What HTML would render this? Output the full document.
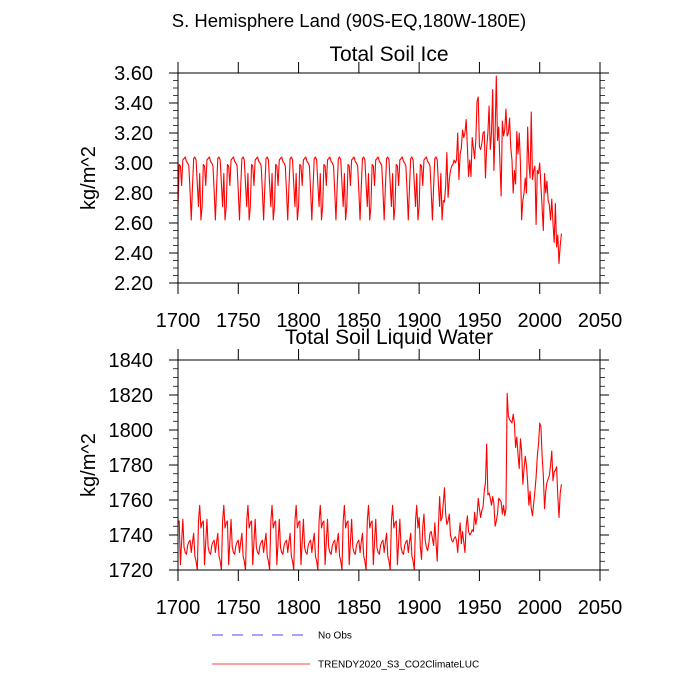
<!DOCTYPE html>
<html><head><meta charset="utf-8"><style>
html,body{margin:0;padding:0;background:#fff;}
svg{display:block;font-family:"Liberation Sans",Arial,sans-serif;}
</style></head><body>
<svg id="chart" width="700" height="700" viewBox="0 0 700 700" xmlns="http://www.w3.org/2000/svg">
<rect x="0" y="0" width="700" height="700" fill="#fff"/>
<text x="349" y="27" font-size="18.5" text-anchor="middle">S. Hemisphere Land (90S-EQ,180W-180E)</text>
<text x="389" y="61" font-size="21" text-anchor="middle">Total Soil Ice</text>
<text x="389" y="344" font-size="21" text-anchor="middle">Total Soil Liquid Water</text>
<g id="p1"></g>
<g id="p2"></g>
<g>
<line x1="212" y1="635" x2="308" y2="635" stroke="#4b4bf0" stroke-width="1" stroke-dasharray="11,9"/>
<text x="318" y="638.5" font-size="10">No Obs</text>
<line x1="212" y1="664" x2="310" y2="664" stroke="#ff4040" stroke-width="1"/>
<text x="318" y="667.5" font-size="10">TRENDY2020_S3_CO2ClimateLUC</text>
</g>
</svg>
<script>
const startYear = 1700;
const xTicks = [1700,1750,1800,1850,1900,1950,2000,2050];
const iceTicks = ["2.20","2.40","2.60","2.80","3.00","3.20","3.40","3.60"];
const liqTicks = ["1720","1740","1760","1780","1800","1820","1840"];
const iceValues = [
2.71,2.99,2.98,2.85,3.02,3.03,3.04,3.01,3.00,2.98,2.81,2.62,2.84,3.03,3.04,3.02,2.86,2.71,2.93,2.62,
2.71,2.99,2.98,2.85,3.02,3.03,3.04,3.01,3.00,2.98,2.81,2.62,2.84,3.03,3.04,3.02,2.86,2.71,2.93,2.62,
2.71,2.99,2.98,2.85,3.02,3.03,3.04,3.01,3.00,2.98,2.81,2.62,2.84,3.03,3.04,3.02,2.86,2.71,2.93,2.62,
2.71,2.99,2.98,2.85,3.02,3.03,3.04,3.01,3.00,2.98,2.81,2.62,2.84,3.03,3.04,3.02,2.86,2.71,2.93,2.62,
2.71,2.99,2.98,2.85,3.02,3.03,3.04,3.01,3.00,2.98,2.81,2.62,2.84,3.03,3.04,3.02,2.86,2.71,2.93,2.62,
2.71,2.99,2.98,2.85,3.02,3.03,3.04,3.01,3.00,2.98,2.81,2.62,2.84,3.03,3.04,3.02,2.86,2.71,2.93,2.62,
2.71,2.99,2.98,2.85,3.02,3.03,3.04,3.01,3.00,2.98,2.81,2.62,2.84,3.03,3.04,3.02,2.86,2.71,2.93,2.62,
2.71,2.99,2.98,2.85,3.02,3.03,3.04,3.01,3.00,2.98,2.81,2.62,2.84,3.03,3.04,3.02,2.86,2.71,2.93,2.62,
2.71,2.99,2.98,2.85,3.02,3.03,3.04,3.01,3.00,2.98,2.81,2.62,2.84,3.03,3.04,3.02,2.86,2.71,2.93,2.62,
2.71,2.99,2.98,2.85,3.02,3.03,3.04,3.01,3.00,2.98,2.81,2.62,2.84,3.03,3.04,3.02,2.86,2.71,2.93,2.62,
2.71,2.99,2.98,2.85,3.02,3.03,3.04,3.01,3.00,2.98,2.81,2.62,2.84,3.03,3.04,3.02,2.86,2.71,2.93,2.62,
2.75,2.74,2.85,3.07,2.77,2.89,2.95,2.98,2.99,3.02,3.00,3.02,3.20,2.89,3.06,3.10,3.22,3.17,3.20,3.29,
3.11,2.91,3.02,2.91,3.17,3.10,3.03,3.15,3.41,3.44,3.11,3.09,3.13,3.20,3.21,2.90,3.10,3.20,3.38,3.09,
3.20,3.49,2.95,3.20,3.58,3.15,3.24,3.00,2.78,3.28,3.18,3.22,3.36,3.18,3.20,3.30,3.10,3.02,2.80,2.95,
2.86,3.21,3.06,3.20,3.00,2.62,2.75,2.80,2.90,2.80,3.24,3.00,2.90,3.34,2.89,2.95,2.98,2.59,2.95,2.93,
3.00,2.85,2.70,2.55,2.93,2.80,2.88,2.75,2.72,2.62,2.76,2.60,2.47,2.73,2.44,2.52,2.33,2.45,2.53
];
const liqValues = [
1747,1748,1723,1736,1749,1733,1730,1729,1734,1736,1737,1730,1736,1741,1728,1725,1720,1748,1757,1744,
1747,1748,1723,1736,1749,1733,1730,1729,1734,1736,1737,1730,1736,1741,1728,1725,1720,1748,1757,1744,
1747,1748,1723,1736,1749,1733,1730,1729,1734,1736,1737,1730,1736,1741,1728,1725,1720,1748,1757,1744,
1747,1748,1723,1736,1749,1733,1730,1729,1734,1736,1737,1730,1736,1741,1728,1725,1720,1748,1757,1744,
1747,1748,1723,1736,1749,1733,1730,1729,1734,1736,1737,1730,1736,1741,1728,1725,1720,1748,1757,1744,
1747,1748,1723,1736,1749,1733,1730,1729,1734,1736,1737,1730,1736,1741,1728,1725,1720,1748,1757,1744,
1747,1748,1723,1736,1749,1733,1730,1729,1734,1736,1737,1730,1736,1741,1728,1725,1720,1748,1757,1744,
1747,1748,1723,1736,1749,1733,1730,1729,1734,1736,1737,1730,1736,1741,1728,1725,1720,1748,1757,1744,
1747,1748,1723,1736,1749,1733,1730,1729,1734,1736,1737,1730,1736,1741,1728,1725,1720,1748,1757,1744,
1747,1748,1723,1736,1749,1733,1730,1729,1734,1736,1737,1730,1736,1741,1728,1725,1720,1748,1757,1744,
1750,1733,1726,1745,1752,1737,1733,1731,1735,1741,1742,1738,1734,1747,1736,1725,1745,1762,1748,1750,
1758,1767,1752,1746,1748,1752,1740,1737,1736,1738,1739,1737,1730,1740,1747,1735,1742,1736,1730,1745,
1751,1742,1740,1741,1743,1742,1753,1746,1750,1761,1755,1750,1754,1756,1765,1770,1792,1763,1764,1761,
1757,1762,1758,1745,1748,1752,1761,1760,1759,1752,1757,1751,1755,1821,1808,1806,1805,1804,1809,1804,
1790,1796,1786,1778,1795,1788,1769,1778,1785,1780,1770,1757,1765,1755,1751,1758,1765,1773,1785,1792,
1804,1802,1785,1774,1755,1765,1770,1772,1774,1780,1788,1771,1776,1777,1779,1762,1750,1764,1769
];
const NS = "http://www.w3.org/2000/svg";
function mk(tag, attrs, parent){
  const e = document.createElementNS(NS, tag);
  for (const k in attrs) e.setAttribute(k, attrs[k]);
  parent.appendChild(e); return e;
}
function panel(g, top, bottom, ymin, ymax, yTickLabels, minorStep, values, prefix){
  const L = 178, R = 600, xmin = 1700, xmax = 2050;
  const xs = v => L + (v - xmin) / (xmax - xmin) * (R - L);
  const ys = v => bottom - (v - ymin) / (ymax - ymin) * (bottom - top);
  let d = "";
  values.forEach((v, i) => { d += (i ? "L" : "M") + xs(startYear + i).toFixed(2) + "," + ys(v).toFixed(2); });
  const line = mk("path", {d: d, fill: "none", stroke: "#ff0000", "stroke-width": "1.1", "stroke-linejoin": "round"}, g);
  
  
  const fr = mk("rect", {x: L, y: top, width: R - L, height: bottom - top, fill: "none", stroke: "#000", "stroke-width": "1"}, g);
  
  
  xTicks.forEach(t => {
    const x = xs(t);
    const tk = mk("path", {d: `M${x},${top}V${top-11}M${x},${bottom}V${bottom+11}`, stroke: "#000", "stroke-width": "1"}, g);
    
    
    const lb = mk("text", {x: x, y: bottom + 44, "font-size": "20", "text-anchor": "middle"}, g);
    lb.textContent = t;
    
    
  });
  for (let v = ymin; v <= ymax + 1e-9; v += minorStep) {
    const y = ys(v);
    const mt = mk("path", {d: `M${L},${y}H${L-5}M${R},${y}H${R+5}`, stroke: "#000", "stroke-width": "0.8"}, g);
    
    
  }
  yTickLabels.forEach(s => {
    const y = ys(parseFloat(s));
    const tk = mk("path", {d: `M${L},${y}H${L-9}M${R},${y}H${R+9}`, stroke: "#000", "stroke-width": "1"}, g);
    
    
    const lb = mk("text", {x: 153, y: y + 7, "font-size": "20", "text-anchor": "end"}, g);
    lb.textContent = s;
    
    
  });
  const yc = (top + bottom) / 2;
  const yt = mk("text", {x: 95, y: yc, "font-size": "20", "text-anchor": "middle", transform: `rotate(-90 95 ${yc})`}, g);
  yt.textContent = "kg/m^2";
  
  
}
panel(document.getElementById("p1"), 73, 283, 2.2, 3.6, iceTicks, 0.05, iceValues, "ice");
panel(document.getElementById("p2"), 360, 570, 1720, 1840, liqTicks, 5, liqValues, "liquid");
</script>
</body></html>
